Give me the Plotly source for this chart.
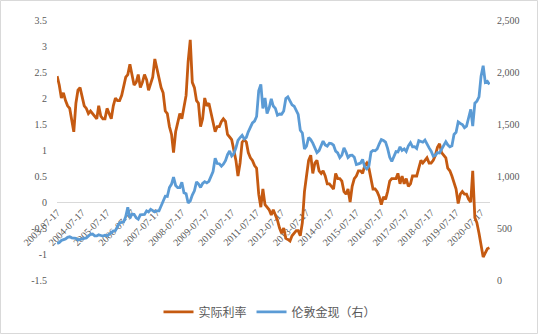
import pandas as pd
import plotly.graph_objects as go

# ---- data (monthly readings, 2003-07 .. 2020-11) ----
real_rate = [
    2.42, 2.25, 2.0, 2.1, 1.95, 1.85,
    1.8, 1.6, 1.35, 1.9, 2.15, 2.2, 2.05, 1.85, 1.8, 1.7, 1.75, 1.7,
    1.65, 1.6, 1.85, 1.65, 1.6, 1.6, 1.8, 1.7, 1.6, 1.85, 2.0, 1.95,
    1.95, 2.05, 2.25, 2.4, 2.45, 2.65, 2.45, 2.25, 2.3, 2.45, 2.2, 2.3,
    2.45, 2.35, 2.15, 2.3, 2.4, 2.75, 2.55, 2.35, 2.2, 2.1, 1.75, 1.7,
    1.45, 1.3, 0.95, 1.35, 1.5, 1.7, 1.6, 1.8, 2.05, 2.7, 3.12, 2.3,
    2.2, 1.95, 1.9, 1.45, 1.6, 2.0, 1.85, 1.9, 1.7, 1.55, 1.35, 1.45,
    1.45, 1.55, 1.6, 1.55, 1.3, 1.25, 1.2, 1.0, 0.8, 0.5, 0.75, 1.15,
    1.2, 1.15, 0.95, 0.85, 0.8, 0.7, 0.65, 0.15, -0.1, 0.25, -0.05, -0.1,
    -0.15, -0.25, -0.15, -0.25, -0.35, -0.5, -0.6, -0.5, -0.7, -0.72, -0.75, -0.65,
    -0.6, -0.55, -0.55, -0.65, -0.4, 0.2, 0.5, 0.8, 0.9, 0.55, 0.75, 0.8,
    0.6, 0.55, 0.6, 0.5, 0.35, 0.35, 0.3, 0.25, 0.55, 0.45, 0.45, 0.4,
    0.2, 0.15, 0.25, 0.0, 0.3, 0.45, 0.5, 0.6, 0.6, 0.55, 0.7, 0.75,
    0.65, 0.45, 0.25, 0.25, 0.2, 0.1, -0.05, 0.1, 0.05, 0.2, 0.4, 0.45,
    0.45, 0.45, 0.55, 0.35, 0.5, 0.35, 0.45, 0.3, 0.35, 0.5, 0.5, 0.5,
    0.65, 0.8, 0.75, 0.8, 0.85, 0.75, 0.75, 0.8, 0.9, 1.05, 1.12, 0.95,
    0.9, 0.85, 0.65, 0.6, 0.5, 0.35, 0.25, -0.03, 0.15, 0.2, 0.15, 0.15,
    0.05, 0.0, 0.6, -0.3, -0.4, -0.6, -0.85, -1.06, -0.98, -0.9, -0.88,
]

gold = [
    350, 360, 380, 385, 395, 410,
    415, 405, 405, 400, 385, 392, 398, 400, 405, 420, 440, 442,
    424, 424, 434, 428, 422, 430, 424, 438, 456, 470, 476, 510,
    550, 555, 557, 610, 700, 596, 633, 632, 598, 585, 627, 629,
    631, 665, 655, 679, 667, 655, 665, 665, 712, 754, 806, 803,
    889, 922, 990, 909, 888, 889, 940, 839, 829, 740, 760, 816,
    858, 943, 924, 890, 928, 946, 934, 949, 996, 1043, 1170, 1120,
    1118, 1095, 1113, 1148, 1205, 1240, 1193, 1215, 1271, 1342, 1370, 1391,
    1356, 1372, 1424, 1473, 1510, 1528, 1572, 1820, 1880, 1650, 1750, 1600,
    1656, 1742, 1673, 1650, 1585, 1596, 1594, 1626, 1744, 1760, 1721, 1684,
    1671, 1627, 1593, 1440, 1414, 1260, 1286, 1370, 1349, 1316, 1275, 1225,
    1244, 1300, 1336, 1299, 1287, 1315, 1311, 1296, 1239, 1222, 1176, 1200,
    1270, 1227, 1178, 1198, 1199, 1181, 1110, 1117, 1125, 1159, 1086, 1068,
    1097, 1230, 1246, 1242, 1260, 1310, 1350, 1341, 1326, 1266, 1180, 1140,
    1192, 1234, 1231, 1280, 1246, 1260, 1236, 1290, 1320, 1280, 1282, 1265,
    1340, 1331, 1325, 1345, 1303, 1270, 1238, 1190, 1198, 1225, 1221, 1260,
    1292, 1330, 1300, 1280, 1290, 1400, 1420, 1520, 1505, 1495, 1465, 1480,
    1560, 1640, 1480, 1700, 1720, 1760, 1960, 2060, 1900, 1910, 1880,
]

dates = pd.date_range("2003-07-17", periods=len(real_rate), freq=pd.DateOffset(months=1))

x_tick_labels = [
    "2003-07-17", "2004-07-17", "2005-07-17", "2006-07-17", "2007-07-17",
    "2008-07-17", "2009-07-17", "2010-07-17", "2011-07-17", "2012-07-17",
    "2013-07-17", "2014-07-17", "2015-07-17", "2016-07-17", "2017-07-17",
    "2018-07-17", "2019-07-17", "2020-07-17",
]
left_ticks = [-1.5, -1, -0.5, 0, 0.5, 1, 1.5, 2, 2.5, 3, 3.5]
left_labels = ["-1.5", "-1", "-0.5", "0", "0.5", "1", "1.5", "2", "2.5", "3", "3.5"]
right_ticks = [0, 500, 1000, 1500, 2000, 2500]
right_labels = ["0", "500", "1,000", "1,500", "2,000", "2,500"]

series_names = ["实际利率", "伦敦金现（右）"]

ORANGE = "#C55A11"
BLUE = "#5B9BD5"
GRAY = "#595959"
FONT = "'Liberation Serif', 'Noto Sans CJK SC', serif"

fig = go.Figure()
fig.add_trace(go.Scatter(x=dates, y=real_rate, name=series_names[0], mode="lines",
                         line=dict(color=ORANGE, width=2.8), yaxis="y"))
fig.add_trace(go.Scatter(x=dates, y=gold, name=series_names[1], mode="lines",
                         line=dict(color=BLUE, width=2.8), yaxis="y2"))

W, H = 540, 335
ML, MR, MT, MB = 57, 50, 20, 55
pw, ph = W - ML - MR, H - MT - MB

fig.update_layout(
    width=W, height=H,
    margin=dict(l=ML, r=MR, t=MT, b=MB, pad=0, autoexpand=False),
    paper_bgcolor="white", plot_bgcolor="white",
    font=dict(family=FONT, size=10, color=GRAY),
    showlegend=True,
    legend=dict(orientation="h", xref="container", yref="container",
                x=0.5, xanchor="center", y=0.069, yanchor="middle",
                font=dict(family="'Noto Sans CJK SC'", size=12, color=GRAY),
                itemwidth=30, bgcolor="rgba(0,0,0,0)"),
    xaxis=dict(
        type="date", range=["2003-07-15", "2020-11-25"],
        anchor="free", position=1.5 / 5, automargin=False,
        showgrid=False, zeroline=False,
        showline=True, linecolor="#D9D9D9", linewidth=1, layer="below traces",
        tickmode="array", tickvals=x_tick_labels, ticktext=x_tick_labels,
        tickangle=-45, ticks="", tickfont=dict(family=FONT, size=10, color=GRAY),
    ),
    yaxis=dict(
        range=[-1.5, 3.5], showgrid=False, zeroline=False, showline=False,
        automargin=False,
        tickmode="array", tickvals=left_ticks, ticktext=left_labels,
        ticks="", ticklabelstandoff=9, tickfont=dict(family=FONT, size=10, color=GRAY),
    ),
    yaxis2=dict(
        range=[0, 2500], overlaying="y", side="right", anchor="x",
        automargin=False,
        showgrid=False, zeroline=False, showline=False,
        tickmode="array", tickvals=right_ticks, ticktext=right_labels,
        ticks="", ticklabelstandoff=6, tickfont=dict(family=FONT, size=10, color=GRAY),
    ),
    shapes=[dict(type="rect", xref="paper", yref="paper",
                 x0=(0.5 - ML) / pw, x1=(537.5 - ML) / pw,
                 y0=(H - 333.5 - MB) / ph, y1=(H - 0.5 - MB) / ph,
                 line=dict(color="#D9D9D9", width=1), fillcolor="rgba(0,0,0,0)",
                 layer="below")],
)

fig.write_html("out.html")
